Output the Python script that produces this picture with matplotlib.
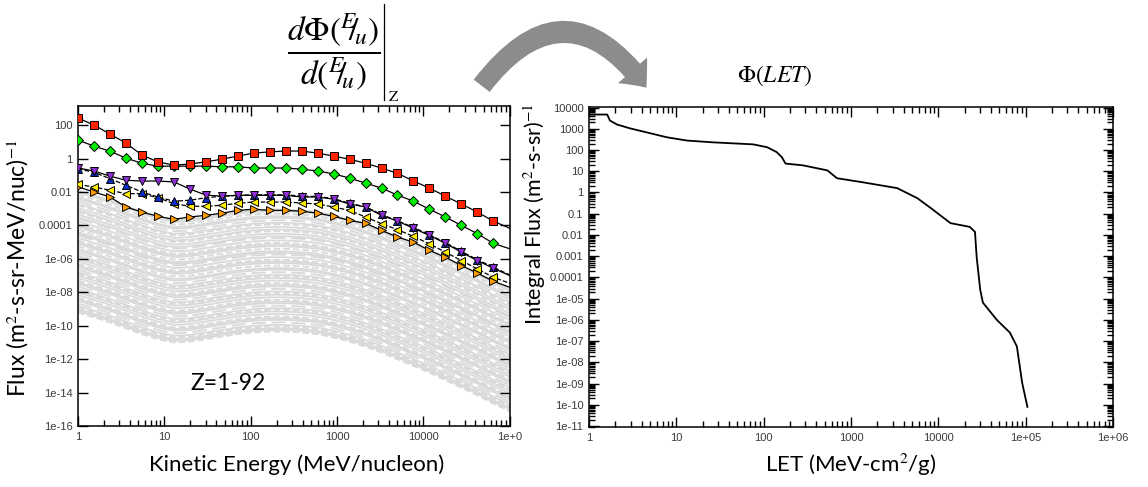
import matplotlib
matplotlib.use('Agg')
import numpy as np
import matplotlib.pyplot as plt
from matplotlib.lines import Line2D
from matplotlib.patches import FancyArrowPatch
from matplotlib.ticker import FixedLocator, FixedFormatter, LogLocator, NullLocator

# kinetic energy grid of the marked spectra (MeV/nucleon), last point is the axis edge
energy = [1, 1.53, 2.34, 3.59, 5.5, 8.41, 12.9, 19.7, 30.2, 46.2, 70.8, 108, 166, 254,
          389, 596, 912, 1396, 2138, 3273, 5012, 7674, 11749, 17989, 27542, 42170,
          64565, 100000]

flux_red = [263, 100, 29, 8.3, 1.6, 0.63, 0.40, 0.47, 0.63, 0.91, 1.4, 2.1, 2.5, 2.8,
            2.8, 2.1, 1.4, 0.91, 0.52, 0.27, 0.13, 0.045, 0.017, 5.6e-3, 1.9e-3,
            6.3e-4, 1.8e-4, 6.8e-5]
flux_green = [12.6, 5.5, 2.75, 1.05, 0.52, 0.35, 0.35, 0.35, 0.35, 0.32, 0.32, 0.27,
              0.27, 0.27, 0.23, 0.18, 0.12, 0.068, 0.034, 0.017, 6.5e-3, 2.8e-3,
              9.3e-4, 3.2e-4, 1e-4, 3.2e-5, 8.5e-6, 4e-6]
flux_blue = [0.24, 0.15, 0.063, 0.025, 0.01, 5e-3, 2.8e-3, 3.2e-3, 4.5e-3, 5.6e-3,
             6.3e-3, 6.8e-3, 6.8e-3, 6.8e-3, 5.6e-3, 5.4e-3, 4e-3, 2.1e-3, 1.3e-3,
             4.5e-4, 1.9e-4, 7.6e-5, 2.8e-5, 9.5e-6, 2.8e-6, 8.9e-7, 3.2e-7, 1.1e-7]
flux_purple = [0.27, 0.18, 0.089, 0.05, 0.045, 0.045, 0.04, 0.015, 6.5e-3, 5.6e-3,
               6.3e-3, 6.3e-3, 6.3e-3, 6.3e-3, 5e-3, 5e-3, 3.7e-3, 1.9e-3, 1.26e-3,
               4e-4, 1.8e-4, 6.8e-5, 2.5e-5, 8.5e-6, 2.5e-6, 7.9e-7, 2.75e-7, 1e-7]
flux_yellow = [0.028, 0.02, 0.0126, 7.9e-3, 7.9e-3, 4.5e-3, 2e-3, 1.4e-3, 1.4e-3,
               1.6e-3, 2.1e-3, 2.5e-3, 2.5e-3, 2.5e-3, 2.2e-3, 1.9e-3, 1.26e-3, 7.9e-4,
               3.2e-4, 1.26e-4, 5.6e-5, 2.2e-5, 7.9e-6, 2.5e-6, 7.9e-7, 2.5e-7, 7.9e-8,
               3.5e-8]
flux_orange = [0.02, 0.01, 5e-3, 1.26e-3, 6.3e-4, 3.5e-4, 2.3e-4, 3.2e-4, 4e-4, 5.4e-4,
               7.9e-4, 9.3e-4, 7.9e-4, 7.9e-4, 7.1e-4, 5.4e-4, 3.5e-4, 2e-4, 1.35e-4,
               5e-5, 2e-5, 1e-5, 3.2e-6, 1.26e-6, 4e-7, 1.4e-7, 4.6e-8, 2e-8]

# the other elements (grey): common spectral shape in decades relative to E=1,
# and the log10 flux of each element at 1 MeV/nucleon
gray_shape = [0, -0.3, -0.6, -0.95, -1.3, -1.6, -1.8, -1.75, -1.6, -1.45, -1.3, -1.2,
              -1.15, -1.15, -1.2, -1.3, -1.5, -1.75, -2.05, -2.4, -2.8, -3.2, -3.6,
              -4.05, -4.5, -4.95, -5.45, -5.9]
gray_start = [-1.9, -2.0, -2.15, -2.3, -2.4, -2.55, -2.7, -2.8, -2.95, -3.1, -3.2,
              -3.35, -3.5, -3.6, -3.75, -3.9, -4.0, -4.1, -4.25, -4.4, -4.5, -4.6,
              -4.75, -4.9, -5.0, -5.1, -5.25, -5.4, -5.5, -5.65, -5.8, -5.9, -6.0,
              -6.15, -6.3, -6.4, -6.5, -6.65, -6.8, -6.9, -7.0, -7.15, -7.3, -7.4,
              -7.5, -7.65, -7.8, -7.9, -8.0, -8.15, -8.3, -8.4, -8.5, -8.65, -8.8,
              -8.9, -9.0, -9.1, -9.2]

# integral LET spectrum
let = [1.0, 1.62, 1.74, 2.09, 2.95, 4.57, 7.76, 13.2, 26.3, 75.9, 110, 141, 162, 178,
       282, 537, 692, 1380, 3390, 5750, 8130, 13800, 22900, 26300, 27500, 30200,
       32400, 46800, 66100, 79400, 91200, 104700]
int_flux = [4700, 4700, 2450, 1600, 1050, 680, 400, 280, 230, 185, 135, 80, 46, 23, 19,
            11, 4.7, 3.0, 1.6, 0.54, 0.19, 0.036, 0.024, 0.014, 9e-4, 2.6e-5, 6.5e-6,
            1e-6, 2.5e-7, 5.6e-8, 1.1e-9, 8e-11]

left_xticks = [1, 10, 100, 1000, 10000, 100000]
left_xlabels = ['1', '10', '100', '1000', '10000', '1e+0']
left_yticks = [1e2, 1, 1e-2, 1e-4, 1e-6, 1e-8, 1e-10, 1e-12, 1e-14, 1e-16]
left_ylabels = ['100', '1', '0.01', '0.0001', '1e-06', '1e-08', '1e-10', '1e-12',
                '1e-14', '1e-16']
right_xticks = [1, 10, 100, 1000, 10000, 1e5, 1e6]
right_xlabels = ['1', '10', '100', '1000', '10000', '1e+05', '1e+06']
right_yticks = [1e4, 1e3, 1e2, 10, 1, 0.1, 0.01, 1e-3, 1e-4, 1e-5, 1e-6, 1e-7, 1e-8,
                1e-9, 1e-10, 1e-11]
right_ylabels = ['10000', '1000', '100', '10', '1', '0.1', '0.01', '0.001', '0.0001',
                 '1e-05', '1e-06', '1e-07', '1e-08', '1e-09', '1e-10', '1e-11']

label_font = 'Lato'
tick_font = 'Liberation Sans'
plt.rcParams['mathtext.fontset'] = 'stix'

fig = plt.figure(figsize=(11.48, 4.87), dpi=100)
ax1 = fig.add_axes([0.068, 0.125, 0.376, 0.657])
ax2 = fig.add_axes([0.513, 0.123, 0.4565, 0.657])

# grey band of all the other nuclei
gray_styles = ['-', '-', '--', '-', '-', (0, (8, 3)), '-', '--']
for i, s in enumerate(gray_start):
    y = 10 ** (np.array(gray_shape) + s)
    ax1.plot(energy, y, color='#d9d9d9', lw=1.3, ls=gray_styles[i % len(gray_styles)],
             zorder=1)

series = [
    (flux_orange, '>', '#ff9a00', '-'),
    (flux_yellow, '<', '#ffee00', '--'),
    (flux_blue, '^', '#0a2fd0', '--'),
    (flux_purple, 'v', '#8e2fd6', '-'),
    (flux_green, 'D', '#00ee00', '-'),
    (flux_red, 's', '#ff2200', '-'),
]
for vals, mk, col, ls in series:
    ax1.plot(energy, vals, color='black', lw=0.9, ls=ls, marker=mk, ms=5.5,
             mfc=col, mec='black', mew=0.7, markevery=slice(0, len(energy) - 1),
             zorder=3)

ax1.set_xscale('log')
ax1.set_yscale('log')
ax1.set_xlim(1, 1e5)
ax1.set_ylim(1e-16, 10 ** 3.13)
ax1.xaxis.set_major_locator(FixedLocator(left_xticks))
ax1.xaxis.set_major_formatter(FixedFormatter(left_xlabels))
ax1.xaxis.set_minor_locator(LogLocator(base=10, subs=np.arange(2, 10), numticks=20))
ax1.yaxis.set_major_locator(FixedLocator(left_yticks))
ax1.yaxis.set_major_formatter(FixedFormatter(left_ylabels))
ax1.yaxis.set_minor_locator(NullLocator())
ax1.text(0.347, 0.134, 'Z=1-92', transform=ax1.transAxes, fontsize=16.5,
         family=label_font, ha='center', va='center')

ax2.plot(let, int_flux, color='black', lw=1.3)
ax2.set_xscale('log')
ax2.set_yscale('log')
ax2.set_xlim(1, 1e6)
ax2.set_ylim(10 ** -11.05, 10 ** 4.02)
ax2.xaxis.set_major_locator(FixedLocator(right_xticks))
ax2.xaxis.set_major_formatter(FixedFormatter(right_xlabels))
ax2.xaxis.set_minor_locator(LogLocator(base=10, subs=np.arange(2, 10), numticks=20))
ax2.yaxis.set_major_locator(FixedLocator(right_yticks))
ax2.yaxis.set_major_formatter(FixedFormatter(right_ylabels))
ax2.yaxis.set_minor_locator(LogLocator(base=10, subs=np.arange(2, 10), numticks=40))

for ax in (ax1, ax2):
    ax.tick_params(which='both', direction='in', top=True, right=True, width=1.0,
                   labelsize=8, labelcolor='#3a3a3a', pad=4)
    ax.tick_params(which='major', length=7)
    ax.tick_params(which='minor', length=4)
    for lab in ax.get_xticklabels() + ax.get_yticklabels():
        lab.set_family(tick_font)
    for sp in ax.spines.values():
        sp.set_linewidth(1.1)

fig.text(0.258, 0.045, 'Kinetic Energy (MeV/nucleon)', fontsize=16,
         family=label_font, ha='center', va='center')
fig.text(0.016, 0.45, 'Flux (m$^2$-s-sr-MeV/nuc)$^{-1}$', fontsize=16.5,
         family=label_font, ha='center', va='center', rotation=90)
fig.text(0.741, 0.045, 'LET (MeV-cm$^2$/g)', fontsize=16, family=label_font,
         ha='center', va='center')
fig.text(0.466, 0.56, 'Integral Flux (m$^2$-s-sr)$^{-1}$', fontsize=15.5,
         family=label_font, ha='center', va='center', rotation=90)

# d Phi(E/u) / d(E/u) evaluated at Z
fig.text(334 / 1148, 1 - 52 / 487,
         r'$\dfrac{d\Phi\left({}^{E}\!\!/\!{}_{u}\right)}{d\left({}^{E}\!\!/\!{}_{u}\right)}$',
         fontsize=24, ha='center', va='center')
fig.add_artist(Line2D([384 / 1148, 384 / 1148], [1 - 4 / 487, 1 - 100 / 487],
                      transform=fig.transFigure, color='black', lw=0.9))
fig.text(389 / 1148, 1 - 97 / 487, 'Z', family='STIXGeneral', fontsize=11,
         ha='left', va='center')
fig.text(0.675, 0.845, r'$\Phi\left(LET\right)$', fontsize=17, ha='center',
         va='center')

arrow = FancyArrowPatch((480 / 1148, 1 - 88 / 487), (648 / 1148, 1 - 90 / 487),
                        transform=fig.transFigure,
                        connectionstyle='arc3,rad=-0.68',
                        arrowstyle='simple,head_length=1.6,head_width=2.8,tail_width=1.45',
                        mutation_scale=10, color='#8c8c8c', lw=0)
fig.patches.append(arrow)

fig.savefig('out.png', dpi=100)
